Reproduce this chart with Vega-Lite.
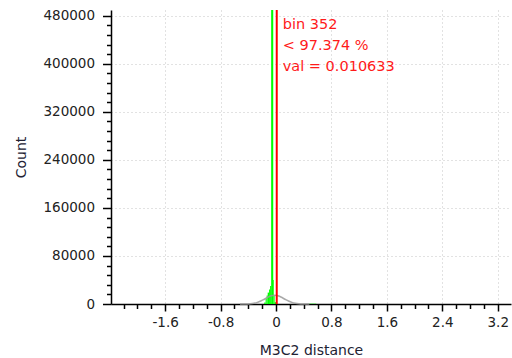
{
  "$schema": "https://vega.github.io/schema/vega-lite/v6.json",
  "autosize": "none",
  "width": 400,
  "height": 294,
  "padding": {"left": 111, "top": 10, "right": 1, "bottom": 54},
  "background": "white",
  "config": {
    "view": {"stroke": null},
    "font": "DejaVu Sans"
  },
  "datasets": {
    "bins": [
      {"x0": -0.17, "x1": -0.15, "count": 2500},
      {"x0": -0.15, "x1": -0.135, "count": 9000},
      {"x0": -0.135, "x1": -0.12, "count": 14000},
      {"x0": -0.12, "x1": -0.10, "count": 19000},
      {"x0": -0.10, "x1": -0.085, "count": 24000},
      {"x0": -0.085, "x1": -0.07, "count": 30000},
      {"x0": -0.07, "x1": -0.04, "count": 1500000},
      {"x0": -0.04, "x1": -0.03, "count": 40000},
      {"x0": -0.03, "x1": -0.02, "count": 14000},
      {"x0": -0.02, "x1": 0.0, "count": 3000},
      {"x0": 0.48, "x1": 0.58, "count": 500}
    ],
    "fit": [
      {"v": -0.52, "c": 0},
      {"v": -0.42, "c": 120},
      {"v": -0.37, "c": 450},
      {"v": -0.32, "c": 1200},
      {"v": -0.27, "c": 2600},
      {"v": -0.22, "c": 4900},
      {"v": -0.17, "c": 7900},
      {"v": -0.12, "c": 11100},
      {"v": -0.07, "c": 13600},
      {"v": -0.02, "c": 14600},
      {"v": 0.03, "c": 13600},
      {"v": 0.08, "c": 11100},
      {"v": 0.13, "c": 7900},
      {"v": 0.18, "c": 4900},
      {"v": 0.23, "c": 2600},
      {"v": 0.28, "c": 1200},
      {"v": 0.33, "c": 450},
      {"v": 0.38, "c": 120},
      {"v": 0.48, "c": 0}
    ],
    "marker": [{"val": 0.010633}],
    "notes": [
      {"val": 0.010633, "y": 457400, "label": "bin 352"},
      {"val": 0.010633, "y": 422900, "label": "< 97.374 %"},
      {"val": 0.010633, "y": 388400, "label": "val = 0.010633"}
    ]
  },
  "layer": [
    {
      "data": {"name": "bins"},
      "mark": {"type": "rect", "color": "#00ff00", "clip": true},
      "encoding": {
        "x": {
          "field": "x0",
          "type": "quantitative",
          "scale": {"domain": [-2.381, 3.391], "nice": false, "zero": false},
          "axis": {
            "title": "M3C2 distance",
            "values": [-2.2, -2.0, -1.8, -1.6, -1.4, -1.2, -1.0, -0.8, -0.6, -0.4, -0.2, 0, 0.2, 0.4, 0.6, 0.8, 1.0, 1.2, 1.4, 1.6, 1.8, 2.0, 2.2, 2.4, 2.6, 2.8, 3.0, 3.2],
            "tickCount": 200,
            "labelExpr": "abs(datum.value/0.8 - round(datum.value/0.8)) < 0.001 ? datum.value + '' : ''",
            "tickSize": {"condition": {"test": "abs(datum.value/0.8 - round(datum.value/0.8)) < 0.001", "value": 7}, "value": 4.5},
            "gridOpacity": {"condition": {"test": "abs(datum.value/0.8 - round(datum.value/0.8)) < 0.001", "value": 1}, "value": 0},
            "grid": true,
            "gridColor": "#c4c4c4",
            "gridDash": [1, 3],
            "domainColor": "#000000",
            "tickColor": "#000000",
            "tickWidth": 1.5,
            "domainWidth": 1.5,
            "labelFontSize": 13.5,
            "labelColor": "#222222",
            "labelPadding": 4,
            "labelFlush": false,
            "labelOverlap": false,
            "titleFontSize": 14,
            "titleFontWeight": "normal",
            "titleColor": "#222233",
            "titlePadding": 15
          }
        },
        "x2": {"field": "x1"},
        "y": {
          "field": "count",
          "type": "quantitative",
          "scale": {"domain": [0, 489500], "nice": false},
          "axis": {
            "title": "Count",
            "values": [0, 16000, 32000, 48000, 64000, 80000, 96000, 112000, 128000, 144000, 160000, 176000, 192000, 208000, 224000, 240000, 256000, 272000, 288000, 304000, 320000, 336000, 352000, 368000, 384000, 400000, 416000, 432000, 448000, 464000, 480000],
            "tickCount": 200,
            "labelExpr": "datum.value % 80000 == 0 ? datum.value + '' : ''",
            "tickSize": {"condition": {"test": "datum.value % 80000 == 0", "value": 8.5}, "value": 4.5},
            "gridOpacity": {"condition": {"test": "datum.value % 80000 == 0 && datum.value > 0", "value": 1}, "value": 0},
            "grid": true,
            "gridColor": "#c4c4c4",
            "gridDash": [1, 3],
            "domainColor": "#000000",
            "tickColor": "#000000",
            "tickWidth": 1.5,
            "domainWidth": 1.5,
            "labelFontSize": 13.5,
            "labelColor": "#222222",
            "labelPadding": 8,
            "labelOverlap": false,
            "labelFlush": false,
            "titleFontSize": 14,
            "titleFontWeight": "normal",
            "titleColor": "#222233",
            "titlePadding": 14
          }
        },
        "y2": {"datum": 0}
      }
    },
    {
      "data": {"name": "fit"},
      "mark": {"type": "line", "color": "#9a9a9a", "strokeWidth": 1.6, "opacity": 0.85, "interpolate": "monotone"},
      "encoding": {
        "x": {"field": "v", "type": "quantitative"},
        "y": {"field": "c", "type": "quantitative"}
      }
    },
    {
      "data": {"name": "marker"},
      "mark": {"type": "rule", "color": "#ff0000", "strokeWidth": 2},
      "encoding": {
        "x": {"field": "val", "type": "quantitative"}
      }
    },
    {
      "data": {"name": "notes"},
      "mark": {"type": "text", "color": "#ff1a1a", "align": "left", "baseline": "alphabetic", "dx": 6, "fontSize": 14.5},
      "encoding": {
        "x": {"field": "val", "type": "quantitative"},
        "y": {"field": "y", "type": "quantitative"},
        "text": {"field": "label"}
      }
    }
  ]
}
